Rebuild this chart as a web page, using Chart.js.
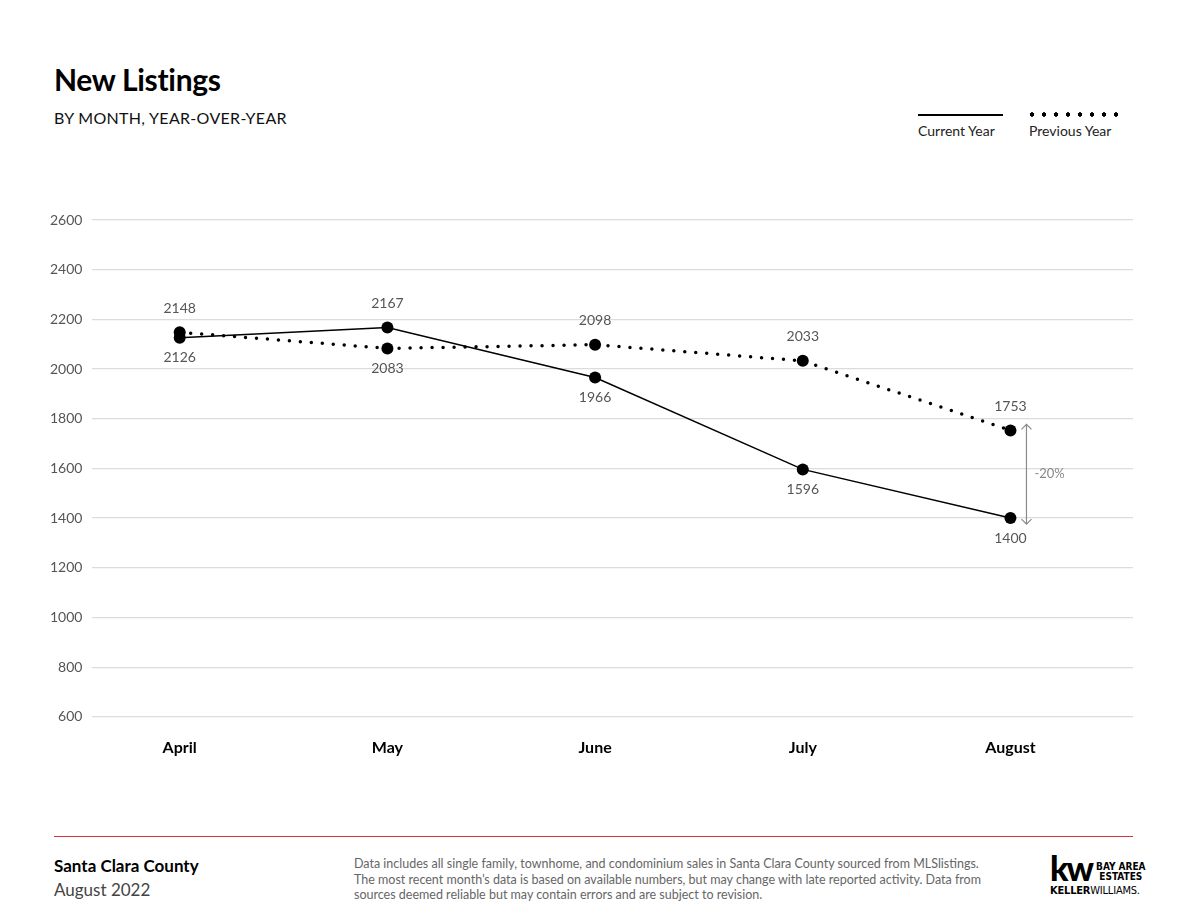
<!DOCTYPE html>
<html>
<head>
<meta charset="utf-8">
<script src="https://cdn.jsdelivr.net/npm/chart.js@4"></script>
<style>
  body { margin: 0; background: #fff; font-family: Lato, 'Noto Sans', sans-serif; }
  #page { position: relative; width: 1188px; height: 918px; overflow: hidden; }
  .abs { position: absolute; }
  #title { left: 54px; top: 61px; font-size: 30px; font-weight: 700; color: #000; letter-spacing: -0.3px; }
  #subtitle { left: 54px; top: 108px; font-size: 16px; color: #111; letter-spacing: 0.3px; }
  .legline { height: 0; border-top: 2px solid #000; }
  .legdots { height: 5px; background-image: radial-gradient(circle, #000 2px, transparent 2.4px); background-size: 12px 5px; }
  .legtext { font-size: 14px; color: #222; }
  #chartwrap { left: 0; top: 190px; width: 1188px; height: 590px; }
  #rule { left: 54px; top: 836px; width: 1079px; height: 0; border-top: 1.5px solid #d0353f; }
  #county { left: 54px; top: 855px; font-size: 17px; font-weight: 700; color: #000; }
  #month { left: 54px; top: 879px; font-size: 17px; color: #444; }
  #note { left: 354px; top: 856px; font-size: 12.5px; line-height: 15.5px; color: #666; width: 700px; }
  #logo { left: 1050px; top: 853px; color: #000; }
  #kw { font-size: 34px; font-weight: 900; letter-spacing: -2px; line-height: 30px; display: inline-block; }
  #bay { display: inline-block; font-family: 'Liberation Sans Narrow', 'DejaVu Sans Condensed', sans-serif; font-weight: 700; font-size: 10px; line-height: 10px; vertical-align: top; margin-top: 9px; margin-left: 4px; text-align: center; }
  #kwname { font-family: 'Liberation Sans Narrow', 'DejaVu Sans Condensed', sans-serif; font-size: 11px; letter-spacing: -0.2px; margin-top: 0px; }
</style>
</head>
<body>
<div id="page">
  <div id="title" class="abs">New Listings</div>
  <div id="subtitle" class="abs">BY MONTH, YEAR-OVER-YEAR</div>

  <div class="abs legline" style="left:918px; top:114px; width:85px;"></div>
  <div class="abs legtext" style="left:918px; top:122px;">Current Year</div>
  <div class="abs legdots" style="left:1026px; top:112px; width:96px;"></div>
  <div class="abs legtext" style="left:1029px; top:122px;">Previous Year</div>

  <div id="chartwrap" class="abs"><canvas id="chart"></canvas></div>

  <div id="rule" class="abs"></div>
  <div id="county" class="abs">Santa Clara County</div>
  <div id="month" class="abs">August 2022</div>
  <div id="note" class="abs">Data includes all single family, townhome, and condominium sales in Santa Clara County sourced from MLSlistings.<br>The most recent month’s data is based on available numbers, but may change with late reported activity. Data from<br>sources deemed reliable but may contain errors and are subject to revision.</div>
  <div id="logo" class="abs">
    <span id="kw">kw</span><span id="bay">BAY AREA<br>ESTATES</span>
    <div id="kwname"><b>KELLER</b>WILLIAMS.</div>
  </div>
</div>

<script>
const months = ['April', 'May', 'June', 'July', 'August'];
const currentYear = [2126, 2167, 1966, 1596, 1400];
const previousYear = [2148, 2083, 2098, 2033, 1753];
// which side of the point each value label sits on
const currentLabelSide = ['below', 'above', 'below', 'below', 'below'];
const previousLabelSide = ['above', 'below', 'above', 'above', 'above'];
const yTicks = [600, 800, 1000, 1200, 1400, 1600, 1800, 2000, 2200, 2400, 2600];

const toPoints = (values) => values.map((value, index) => ({ x: index, y: value }));

const valueLabels = {
  id: 'valueLabels',
  afterDatasetsDraw(chart) {
    const ctx = chart.ctx;
    const sides = [currentLabelSide, previousLabelSide];
    ctx.save();
    ctx.font = '14px Lato, sans-serif';
    ctx.fillStyle = '#555';
    ctx.textAlign = 'center';
    ctx.textBaseline = 'middle';
    chart.data.datasets.forEach((dataset, di) => {
      chart.getDatasetMeta(di).data.forEach((point, i) => {
        const dy = sides[di][i] === 'above' ? -24 : 20;
        ctx.fillText(String(dataset.data[i].y), point.x, point.y + dy);
      });
    });
    ctx.restore();
  }
};

const changeArrow = {
  id: 'changeArrow',
  afterDatasetsDraw(chart) {
    const ctx = chart.ctx;
    const last = months.length - 1;
    const top = chart.getDatasetMeta(1).data[last];
    const bottom = chart.getDatasetMeta(0).data[last];
    const x = top.x + 16;
    const y1 = top.y - 6;
    const y2 = bottom.y + 6;
    const change = Math.round((currentYear[last] - previousYear[last]) / previousYear[last] * 100);
    ctx.save();
    ctx.strokeStyle = '#8a8a8a';
    ctx.lineWidth = 1.2;
    ctx.beginPath();
    ctx.moveTo(x, y1);
    ctx.lineTo(x, y2);
    ctx.moveTo(x - 5, y1 + 5); ctx.lineTo(x, y1); ctx.lineTo(x + 5, y1 + 5);
    ctx.moveTo(x - 5, y2 - 5); ctx.lineTo(x, y2); ctx.lineTo(x + 5, y2 - 5);
    ctx.stroke();
    ctx.font = '13px Lato, sans-serif';
    ctx.fillStyle = '#888';
    ctx.textAlign = 'left';
    ctx.textBaseline = 'middle';
    ctx.fillText(change + '%', x + 8, (y1 + y2) / 2);
    ctx.restore();
  }
};

new Chart(document.getElementById('chart'), {
  type: 'line',
  data: {
    datasets: [
      {
        label: 'Current Year',
        data: toPoints(currentYear),
        borderColor: '#000',
        borderWidth: 1.5,
        pointRadius: 6,
        pointBackgroundColor: '#000',
        pointBorderWidth: 0,
        tension: 0
      },
      {
        label: 'Previous Year',
        data: toPoints(previousYear),
        borderColor: '#000',
        borderWidth: 3.5,
        borderDash: [0, 11],
        borderCapStyle: 'round',
        pointRadius: 6,
        pointBackgroundColor: '#000',
        pointBorderWidth: 0,
        tension: 0
      }
    ]
  },
  options: {
    responsive: true,
    maintainAspectRatio: false,
    animation: false,
    layout: { padding: { left: 40, right: 55, top: 30, bottom: 10 } },
    plugins: {
      legend: { display: false },
      tooltip: { enabled: false }
    },
    scales: {
      x: {
        type: 'linear',
        min: -0.42,
        max: 4.59,
        afterBuildTicks(scale) {
          scale.ticks = months.map((m, i) => ({ value: i }));
        },
        ticks: {
          callback: (value) => months[value],
          color: '#000',
          font: { family: 'Lato, sans-serif', size: 16, weight: 'bold' },
          padding: 13
        },
        grid: { display: false },
        border: { display: false }
      },
      y: {
        min: 600,
        max: 2600,
        afterBuildTicks(scale) {
          scale.ticks = yTicks.map((v) => ({ value: v }));
        },
        ticks: {
          callback: (value) => String(value),
          color: '#555',
          font: { family: 'Lato, sans-serif', size: 14 },
          padding: 10
        },
        grid: { color: '#dcdcdc', lineWidth: 1.2, drawTicks: false },
        border: { display: false }
      }
    }
  },
  plugins: [valueLabels, changeArrow]
});
</script>
</body>
</html>
